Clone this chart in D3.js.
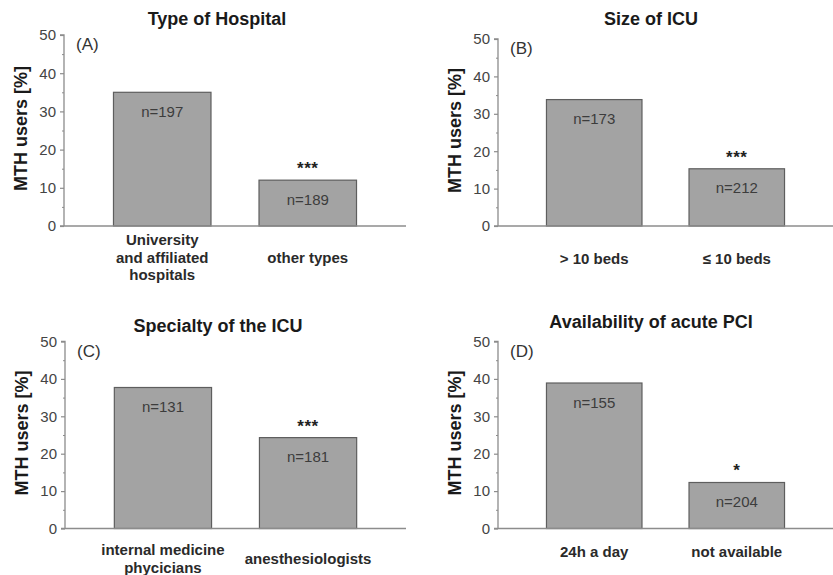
<!DOCTYPE html>
<html>
<head>
<meta charset="utf-8">
<script src="https://cdn.jsdelivr.net/npm/d3@7"></script>
<style>
  html, body { margin: 0; padding: 0; background: #fff; }
  svg { display: block; font-family: "Liberation Sans", Arial, sans-serif; }
</style>
</head>
<body>
<svg id="chart" width="833" height="575"></svg>
<script>
// ---- data ----
const panelTitles = ["Type of Hospital", "Size of ICU", "Specialty of the ICU", "Availability of acute PCI"];
const panelLetters = ["(A)", "(B)", "(C)", "(D)"];
const categoriesA = [["University", "and affiliated", "hospitals"], ["other types"]];
const categoriesB = [["> 10 beds"], ["\u2264 10 beds"]];
const categoriesC = [["internal medicine", "phycicians"], ["anesthesiologists"]];
const categoriesD = [["24h a day"], ["not available"]];
const valuesA = [35.0, 12.0];
const valuesB = [33.8, 15.3];
const valuesC = [37.7, 24.3];
const valuesD = [38.9, 12.3];
const nLabelsA = ["n=197", "n=189"];
const nLabelsB = ["n=173", "n=212"];
const nLabelsC = ["n=131", "n=181"];
const nLabelsD = ["n=155", "n=204"];
const sigA = ["", "***"];
const sigB = ["", "***"];
const sigC = ["", "***"];
const sigD = ["", "*"];
const yTicks = [0, 10, 20, 30, 40, 50];
const yMinorTicks = [5, 15, 25, 35, 45];
const yLabel = "MTH users [%]";

// ---- layout ----
const panels = [
  { cats: categoriesA, vals: valuesA, n: nLabelsA, sig: sigA, x0: 64, x1: 406, yTop: 35, yBot: 226, labelOff: 31 },
  { cats: categoriesB, vals: valuesB, n: nLabelsB, sig: sigB, x0: 498, x1: 833, yTop: 39, yBot: 226, labelOff: 32 },
  { cats: categoriesC, vals: valuesC, n: nLabelsC, sig: sigC, x0: 65, x1: 406, yTop: 341.5, yBot: 528.5, labelOff: 30 },
  { cats: categoriesD, vals: valuesD, n: nLabelsD, sig: sigD, x0: 498, x1: 833, yTop: 341.5, yBot: 528.5, labelOff: 23 }
];

const svg = d3.select("#chart");
const axisColor = "#8c8c8c";
const textColor = "#3a3a3a";

panels.forEach((p, i) => {
  const g = svg.append("g");
  const y = d3.scaleLinear().domain([0, 50]).range([p.yBot, p.yTop]);
  const keys = p.cats.map((c, j) => j);
  const x = d3.scaleBand().domain(keys).range([p.x0, p.x1]).paddingInner(0.33).paddingOuter(0.34);

  // bars
  g.selectAll("rect.bar").data(p.vals).join("rect")
    .attr("class", "bar")
    .attr("x", (d, j) => x(j))
    .attr("width", x.bandwidth())
    .attr("y", d => y(d))
    .attr("height", d => y(0) - y(d))
    .attr("fill", "#a3a3a3")
    .attr("stroke", "#5e5e5e")
    .attr("stroke-width", 1.2);

  // y axis
  const yAxis = d3.axisLeft(y).tickValues(yTicks).tickSize(4).tickPadding(4).tickFormat(d3.format("d"));
  const ya = g.append("g").attr("transform", `translate(${p.x0},0)`).call(yAxis);
  ya.select(".domain").attr("stroke", axisColor).attr("stroke-width", 1.3).attr("d", `M-4,${p.yTop}H0V${p.yBot}`);
  ya.selectAll(".tick line").attr("stroke", axisColor).attr("stroke-width", 1.2);
  ya.selectAll(".tick text").attr("fill", "#444").style("font-size", "15px").style("font-family", "'Liberation Sans', Arial, sans-serif");
  const yMinor = d3.axisLeft(y).tickValues(yMinorTicks).tickSize(2).tickFormat("");
  const ym = g.append("g").attr("transform", `translate(${p.x0},0)`).call(yMinor);
  ym.select(".domain").remove();
  ym.selectAll(".tick line").attr("stroke", axisColor).attr("stroke-width", 1);

  // x axis baseline
  g.append("line")
    .attr("x1", p.x0 - 4).attr("x2", p.x1)
    .attr("y1", y(0)).attr("y2", y(0))
    .attr("stroke", axisColor).attr("stroke-width", 1.3);

  // y label
  g.append("text")
    .attr("transform", `translate(${p.x0 - 43},${(p.yTop + p.yBot) / 2 - 2}) rotate(-90)`)
    .attr("text-anchor", "middle")
    .attr("dominant-baseline", "central")
    .style("font-size", "18px").style("font-weight", "bold")
    .attr("fill", "#1a1a1a")
    .text(yLabel);

  // title
  g.append("text")
    .attr("x", p.x0 + 153).attr("y", p.yTop - 16 - (i % 2 === 1 ? 4 : 0))
    .attr("text-anchor", "middle").attr("dominant-baseline", "central")
    .style("font-size", "18px").style("font-weight", "bold")
    .attr("fill", "#1a1a1a")
    .text(panelTitles[i]);

  // letter
  g.append("text")
    .attr("x", p.x0 + 12).attr("y", p.yTop + 15)
    .style("font-size", "17px").attr("fill", "#333")
    .text(panelLetters[i]);

  // n labels
  g.selectAll("text.n").data(p.vals).join("text")
    .attr("class", "n")
    .attr("x", (d, j) => x(j) + x.bandwidth() / 2)
    .attr("y", d => y(d) + 19)
    .attr("text-anchor", "middle").attr("dominant-baseline", "central")
    .style("font-size", "15px").attr("fill", "#3c3c3c")
    .text((d, j) => p.n[j]);

  // significance
  g.selectAll("text.sig").data(p.vals).join("text")
    .attr("class", "sig")
    .attr("x", (d, j) => x(j) + x.bandwidth() / 2)
    .attr("y", d => y(d) - 6)
    .attr("text-anchor", "middle")
    .style("font-size", "17px").style("font-weight", "bold")
    .style("letter-spacing", "0.5px")
    .attr("fill", "#222")
    .text((d, j) => p.sig[j]);

  // category labels
  p.cats.forEach((lines, j) => {
    const cx = x(j) + x.bandwidth() / 2;
    const lh = 17.5;
    const cy = p.yBot + p.labelOff - (lines.length - 1) * lh / 2;
    const t = g.append("text")
      .attr("text-anchor", "middle")
      .style("font-size", "15px").style("font-weight", "bold")
      .attr("fill", "#2a2a2a");
    lines.forEach((ln, k) => {
      t.append("tspan").attr("x", cx).attr("y", cy + k * lh)
        .attr("dominant-baseline", "central").text(ln);
    });
  });
});
</script>
</body>
</html>
